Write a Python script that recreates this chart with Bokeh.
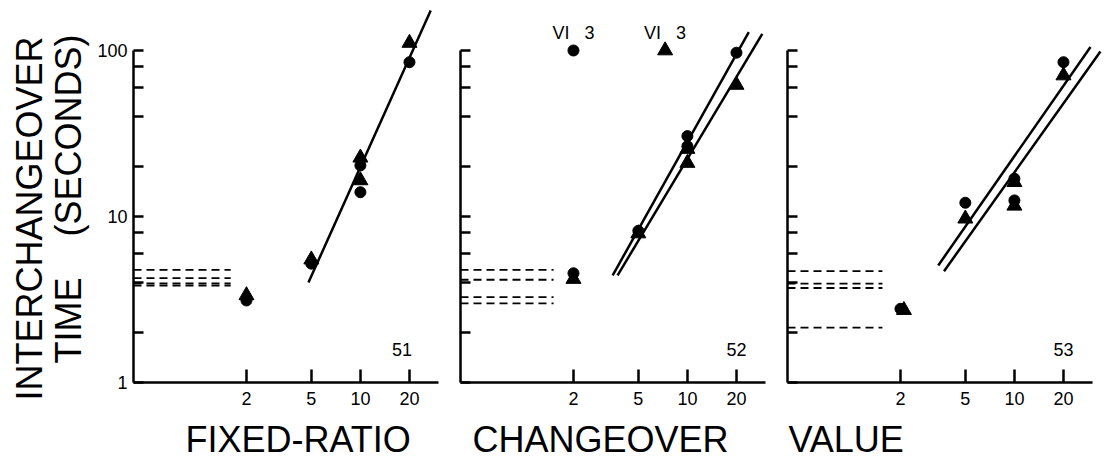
import math
from bokeh.plotting import figure
from bokeh.layouts import row, column
from bokeh.models import Range1d, FixedTicker, Label, CustomJSTickFormatter
from bokeh.core.properties import value
from bokeh.embed import file_html
from bokeh.resources import INLINE

# ---------------- data ----------------
x_ticks = [2, 5, 10, 20]
y_major = [1, 10, 100]
y_minor = [2, 4, 6, 8, 20, 40, 60, 80]

titles = ["FIXED-RATIO", "CHANGEOVER", "VALUE"]
panel_ids = ["51", "52", "53"]
y_title_1 = "INTERCHANGEOVER"
y_title_2a = "TIME"
y_title_2b = "(SECONDS)"

# Panel 51: fixed-ratio
fr_circle_x = [2, 5, 10, 10, 20]
fr_circle_y = [3.12, 5.2, 20.3, 14.0, 85]
fr_tri_x = [2, 5, 10, 10, 20]
fr_tri_y = [3.35, 5.5, 22.6, 16.5, 111]
fr_lines = [([4.8, 27.0], [4.0, 174.0])]
fr_dash_y = [4.77, 4.25, 3.96, 3.84]
fr_dash_end = 1.6

# Panel 52: changeover
co_circle_x = [2, 5, 10, 10, 20]
co_circle_y = [4.55, 8.2, 30.5, 26.5, 97]
co_tri_x = [2, 5, 10, 10, 20]
co_tri_y = [4.2, 7.9, 25.5, 21.0, 62]
co_lines = [([3.48, 23.8], [4.42, 129.0]), ([3.73, 28.8], [4.42, 126.0])]
co_dash_y = [4.77, 4.16, 3.27, 3.0]
co_dash_end = 1.51
vi_circle = (2, 100)
vi_tri = (7.3, 100)
vi_text = "VI\u00a0\u00a0\u00a03"

# Panel 53: value
va_circle_x = [2, 5, 10, 10, 20]
va_circle_y = [2.78, 12.1, 16.9, 12.5, 85]
va_tri_x = [2.1, 5, 10, 10, 20]
va_tri_y = [2.73, 9.7, 16.1, 11.6, 70.7]
va_lines = [([3.41, 29.3], [5.07, 105.0]), ([3.70, 33.7], [4.68, 98.6])]
va_dash_y = [4.69, 3.94, 3.71, 2.14]
va_dash_end = 1.55

panels = [
    (fr_circle_x, fr_circle_y, fr_tri_x, fr_tri_y, fr_lines, fr_dash_y, fr_dash_end),
    (co_circle_x, co_circle_y, co_tri_x, co_tri_y, co_lines, co_dash_y, co_dash_end),
    (va_circle_x, va_circle_y, va_tri_x, va_tri_y, va_lines, va_dash_y, va_dash_end),
]

# ---------------- layout / styling ----------------
FONT = "Liberation Sans"
X0 = 10 ** -0.392
X1 = 10 ** 1.5466
XB = 30
Y0 = 1
Y1 = 10 ** 2.271
YB = 100

PAGE_W, PAGE_H = 1104, 460
TOP_H = 420      # height of the panel row
STRIP_W = 90     # width of the left title strip
widths = [359, 327, 328]
borders_left = [43, 11, 11]
borders_right = [0, 0, 1]
id_x = [18, 20, 20]
id_y = 1.58


def blank_strip(w, h):
    s = figure(width=w, height=h, x_range=Range1d(0, w), y_range=Range1d(0, h),
               output_backend="svg", toolbar_location=None, title=None,
               x_axis_location=None, y_axis_location=None, min_border=0)
    s.outline_line_color = None
    s.grid.visible = False
    return s


figs = []
for i, (cx, cy, tx, ty, lines, dash_y, dash_end) in enumerate(panels):
    p = figure(width=widths[i], height=TOP_H, x_axis_type="log", y_axis_type="log",
               x_range=Range1d(X0, X1), y_range=Range1d(Y0, Y1),
               output_backend="svg", toolbar_location=None, title=None,
               min_border_left=borders_left[i], min_border_right=borders_right[i],
               min_border_top=5, min_border_bottom=38)
    p.outline_line_color = None
    p.grid.visible = False

    xa = p.xaxis[0]
    xa.bounds = (X0, XB)
    xa.ticker = FixedTicker(ticks=x_ticks, minor_ticks=[])
    xa.formatter = CustomJSTickFormatter(code="return tick.toString()")
    xa.major_tick_in = 13
    xa.major_tick_out = 0
    xa.minor_tick_in = 0
    xa.minor_tick_out = 0
    xa.axis_line_width = 2.5
    xa.major_tick_line_width = 2.5
    xa.axis_line_color = "black"
    xa.major_tick_line_color = "black"
    xa.major_label_standoff = 9
    xa.major_label_text_font = FONT
    xa.major_label_text_font_size = "18px"
    xa.major_label_text_color = "black"

    ya = p.yaxis[0]
    ya.bounds = (YB / 100, YB)
    ya.ticker = FixedTicker(ticks=y_major, minor_ticks=y_minor)
    if i == 0:
        ya.formatter = CustomJSTickFormatter(code="return tick.toString()")
    else:
        ya.formatter = CustomJSTickFormatter(code="return ''")
    ya.major_tick_in = 10
    ya.major_tick_out = 0
    ya.minor_tick_in = 10
    ya.minor_tick_out = 0
    ya.axis_line_width = 2.5
    ya.major_tick_line_width = 2.5
    ya.minor_tick_line_width = 2.5
    ya.axis_line_color = "black"
    ya.major_tick_line_color = "black"
    ya.minor_tick_line_color = "black"
    ya.major_label_standoff = 6 if i == 0 else 0
    ya.major_label_text_font = FONT
    ya.major_label_text_font_size = "18px"
    ya.major_label_text_color = "black"

    # dashed reference lines
    p.segment(x0=[X0] * len(dash_y), y0=dash_y, x1=[dash_end] * len(dash_y), y1=dash_y,
              line_color="black", line_width=1.8, line_dash="8 5")
    # fitted lines
    for lx, ly in lines:
        p.line(lx, ly, line_color="black", line_width=2.5)
    # points
    p.scatter(cx, cy, marker="circle", size=11, color="black")
    p.scatter(tx, ty, marker="triangle", size=15, color="black")

    p.add_layout(Label(x=id_x[i], y=id_y, text=panel_ids[i], text_font=FONT,
                       text_font_size="18px", text_align="center",
                       text_baseline="middle", text_color="black"))

    if i == 1:
        p.scatter([vi_circle[0]], [vi_circle[1]], marker="circle", size=11, color="black")
        p.scatter([vi_tri[0]], [vi_tri[1]], marker="triangle", size=15, color="black")
        for vx in (vi_circle[0], vi_tri[0]):
            p.add_layout(Label(x=vx, y=128, text=vi_text, text_font=FONT,
                               text_font_size="18px", text_align="center",
                               text_baseline="middle", text_color="black"))
    figs.append(p)

# left strip with the rotated y title (coordinates = pixels from strip bottom-left)
ystrip = blank_strip(STRIP_W, PAGE_H)
ystrip.text(x=[28.5, 68, 68], y=[PAGE_H - 400, PAGE_H - 363, PAGE_H - 236],
            text=[y_title_1, y_title_2a, y_title_2b],
            text_font=value(FONT), text_font_size=value("36px"),
            text_align="left", text_baseline="middle", angle=math.pi / 2,
            text_color="black")

# bottom strip with the x titles
XS_W = PAGE_W - STRIP_W
XS_H = PAGE_H - TOP_H
xstrip = blank_strip(XS_W, XS_H)
xstrip.text(x=[185 - STRIP_W, 472 - STRIP_W, 788 - STRIP_W], y=[PAGE_H - 439] * 3,
            text=titles,
            text_font=value(FONT), text_font_size=value("36px"),
            text_align="left", text_baseline="middle", text_color="black")

layout = row(ystrip, column(row(*figs), xstrip))
open("out.html", "w").write(file_html(layout, INLINE))
